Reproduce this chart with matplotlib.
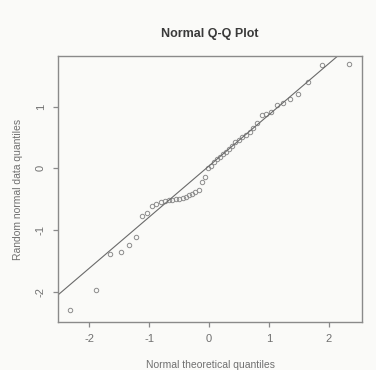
import matplotlib
matplotlib.use("Agg")
import matplotlib.pyplot as plt

# Theoretical normal quantiles (x) and sorted sample values (y)
theoretical = [-2.326, -1.881, -1.645, -1.476, -1.341, -1.227, -1.126, -1.036, -0.954, -0.878,
               -0.806, -0.739, -0.674, -0.613, -0.553, -0.496, -0.440, -0.385, -0.332, -0.279,
               -0.228, -0.176, -0.126, -0.075, -0.025, 0.025, 0.075, 0.126, 0.176, 0.228,
               0.279, 0.332, 0.385, 0.440, 0.496, 0.553, 0.613, 0.674, 0.739, 0.806,
               0.878, 0.954, 1.036, 1.126, 1.227, 1.341, 1.476, 1.645, 1.881, 2.326]
sample = [-2.30, -1.97, -1.39, -1.36, -1.24, -1.12, -0.77, -0.72, -0.61, -0.57,
          -0.55, -0.53, -0.52, -0.51, -0.50, -0.50, -0.48, -0.46, -0.43, -0.41,
          -0.38, -0.35, -0.22, -0.14, 0.01, 0.04, 0.10, 0.15, 0.19, 0.23,
          0.27, 0.31, 0.36, 0.42, 0.46, 0.50, 0.54, 0.59, 0.65, 0.73,
          0.86, 0.88, 0.92, 1.03, 1.06, 1.13, 1.21, 1.40, 1.67, 1.69]
line_intercept = 0.04
line_slope = 0.83
x_ticks = [-2, -1, 0, 1, 2]
y_ticks = [-2, -1, 0, 1]

plt.rcParams['font.family'] = ['Liberation Sans', 'DejaVu Sans']
plt.rcParams['axes.unicode_minus'] = False

bg = '#fafaf8'
fig = plt.figure(figsize=(3.76, 3.70), dpi=100, facecolor=bg)
ax = fig.add_axes([58/376, 48/370, 304/376, 266/370], facecolor=bg)

ax.plot(theoretical, sample, linestyle='none', marker='o', markersize=3.2,
        markerfacecolor='none', markeredgecolor='#8c8c8c', markeredgewidth=0.7)
ax.axline((0, line_intercept), slope=line_slope, color='#6a6a6a', linewidth=0.8)

ax.set_xlim(-2.52, 2.55)
ax.set_ylim(-2.49, 1.82)
ax.set_xticks(x_ticks)
ax.set_xticklabels([str(t) for t in x_ticks])
ax.set_yticks(y_ticks)
ax.set_yticklabels([str(t) for t in y_ticks], rotation=90, va='center')

for s in ax.spines.values():
    s.set_color('#8a8a8a')
    s.set_linewidth(1.0)
ax.tick_params(direction='out', length=3.8, width=0.9, color='#8a8a8a',
               labelcolor='#707070', labelsize=8, pad=5)

ax.set_title('Normal Q-Q Plot', fontsize=9, fontweight='bold', color='#3a3a3a', pad=14)
ax.set_xlabel('Normal theoretical quantiles', fontsize=7.5, color='#707070', labelpad=11)
ax.set_ylabel('Random normal data quantiles', fontsize=7.5, color='#707070', labelpad=9)

fig.savefig('out.png', dpi=100, facecolor=bg)
